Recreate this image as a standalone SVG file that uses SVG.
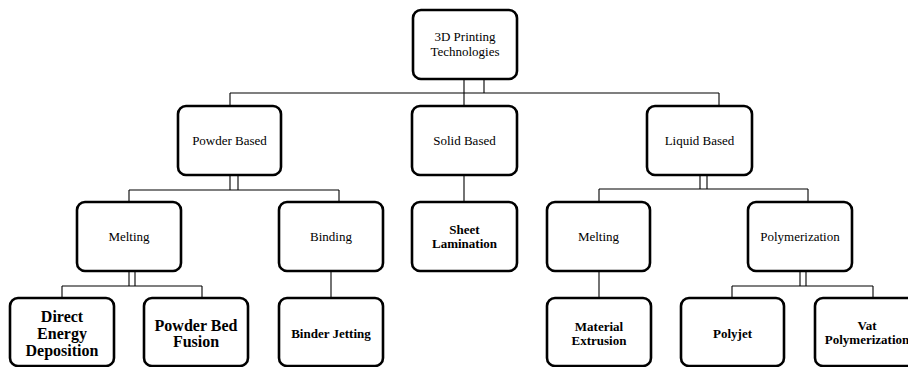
<svg xmlns="http://www.w3.org/2000/svg" width="908" height="367" viewBox="0 0 908 367">
<style>
.box{fill:#fff;stroke:#000;stroke-width:2.6}
.c{fill:none;stroke:#000;stroke-width:1.1}
text{font-family:"Liberation Serif","Times New Roman",serif;fill:#000;text-anchor:middle}
.r{font-size:13px}
.b{font-size:13px;font-weight:bold}
.B{font-size:16px;font-weight:bold}
</style>
<rect width="908" height="367" fill="#fff"/>
<g id="connectors">
<path class="c" d="M464,79V107M484,79V93M230,93H719M230,93V106M719,93V106"/>
<path class="c" d="M230,175V190M238,175V190M129,190H339M129,190V202M339,190V202"/>
<path class="c" d="M464,175V202"/>
<path class="c" d="M700,175V189M707,175V189M599,189H808M599,189V202M808,189V202"/>
<path class="c" d="M129,271V286M135,271V286M62,286H202M62,286V298M202,286V298"/>
<path class="c" d="M331,271V298"/>
<path class="c" d="M599,271V298"/>
<path class="c" d="M800,271V286M806,271V286M732,286H873M732,286V298M873,286V298"/>
</g>
<g id="root"><rect class="box" x="413" y="10" width="104" height="69" rx="8"/><text class="r" x="465" y="41">3D Printing</text><text class="r" x="465" y="55.5">Technologies</text></g>
<g id="powder"><rect class="box" x="178" y="106" width="103" height="69" rx="8"/><text class="r" x="229.5" y="145">Powder Based</text></g>
<g id="solid"><rect class="box" x="412" y="106" width="105" height="69" rx="8"/><text class="r" x="464.5" y="145">Solid Based</text></g>
<g id="liquid"><rect class="box" x="647" y="106" width="105" height="69" rx="8"/><text class="r" x="699.5" y="145">Liquid Based</text></g>
<g id="melting1"><rect class="box" x="77" y="202" width="104" height="69" rx="8"/><text class="r" x="129" y="241">Melting</text></g>
<g id="binding"><rect class="box" x="279" y="202" width="104" height="69" rx="8"/><text class="r" x="331" y="241">Binding</text></g>
<g id="sheet"><rect class="box" x="412" y="202" width="105" height="69" rx="8"/><text class="b" x="464.5" y="234">Sheet</text><text class="b" x="464.5" y="247.5">Lamination</text></g>
<g id="melting2"><rect class="box" x="547" y="202" width="103" height="69" rx="8"/><text class="r" x="598.5" y="241">Melting</text></g>
<g id="polymerization"><rect class="box" x="748" y="202" width="104" height="69" rx="8"/><text class="r" x="800" y="241">Polymerization</text></g>
<g id="ded"><rect class="box" x="10" y="298" width="104" height="68" rx="8"/><text class="B" x="62" y="322">Direct</text><text class="B" x="62" y="339">Energy</text><text class="B" x="62" y="356">Deposition</text></g>
<g id="pbf"><rect class="box" x="144" y="298" width="104" height="68" rx="8"/><text class="B" x="196" y="331">Powder Bed</text><text class="B" x="196" y="347">Fusion</text></g>
<g id="binderjetting"><rect class="box" x="279" y="298" width="104" height="68" rx="8"/><text class="b" x="331" y="337.5">Binder Jetting</text></g>
<g id="materialextrusion"><rect class="box" x="547" y="298" width="104" height="68" rx="8"/><text class="b" x="599" y="330.5">Material</text><text class="b" x="599" y="344.5">Extrusion</text></g>
<g id="polyjet"><rect class="box" x="681" y="298" width="103" height="68" rx="8"/><text class="b" x="732.5" y="337.5">Polyjet</text></g>
<g id="vat"><rect class="box" x="815" y="298" width="104" height="68" rx="8"/><text class="b" x="867" y="329.5">Vat</text><text class="b" x="867" y="343.5">Polymerization</text></g>
</svg>
